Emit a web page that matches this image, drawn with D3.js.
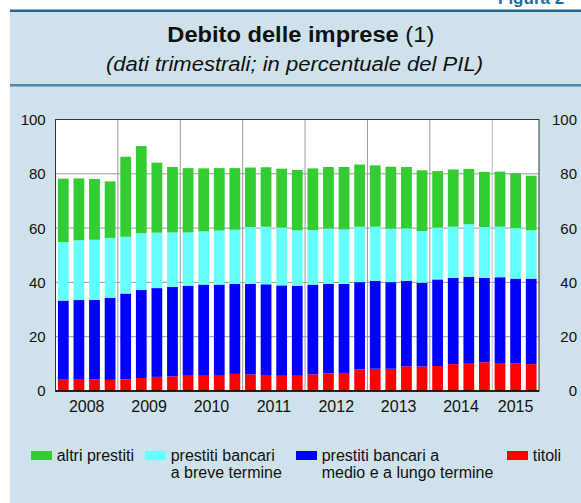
<!DOCTYPE html>
<html>
<head>
<meta charset="utf-8">
<script src="https://cdn.jsdelivr.net/npm/d3@7"></script>
<style>
  body { margin: 0; background: #fff; }
  svg { display: block; font-family: "Liberation Sans", Arial, Helvetica, sans-serif; }
</style>
</head>
<body>
<script>
//Width and height of page
const width = 581;
const height = 503;

// quarters 2008 Q1 -> 2015 Q3
const years = ["2008", "2009", "2010", "2011", "2012", "2013", "2014", "2015"];
const quarters = [];
years.forEach(y => {
  ["T1", "T2", "T3", "T4"].forEach(q => {
    if (!(y === "2015" && q === "T4")) quarters.push(y + q);
  });
});

// values in % of GDP
const titoli = [4.4, 4.4, 4.2, 4.1, 4.3, 4.8, 5.2, 5.4, 5.9, 5.9, 5.9, 6.3, 6.1, 5.9, 5.6, 5.6,
  6.1, 6.5, 6.6, 7.9, 8.2, 8.2, 9.1, 9.0, 9.2, 9.9, 10.3, 10.6, 10.3, 10.1, 9.9];
const medioLungo = [28.9, 29.1, 29.4, 30.2, 31.6, 32.4, 32.7, 33.0, 32.9, 33.3, 33.3, 33.2, 33.4, 33.4, 33.3, 33.2,
  33.1, 33.0, 32.9, 32.2, 32.4, 31.9, 31.5, 30.9, 31.9, 31.8, 31.8, 31.1, 31.6, 31.3, 31.5];
const breve = [21.6, 22.0, 22.1, 22.1, 20.9, 20.9, 20.4, 20.0, 19.6, 19.6, 19.9, 19.9, 20.9, 21.2, 21.3, 20.4,
  20.1, 20.3, 20.0, 20.4, 19.9, 19.7, 19.3, 19.0, 19.1, 18.8, 19.3, 18.7, 18.6, 18.6, 17.8];
const altri = [23.3, 22.8, 22.4, 20.8, 29.5, 32.1, 25.8, 24.1, 23.7, 23.2, 23.0, 22.7, 21.9, 21.9, 21.7, 22.2,
  22.7, 22.7, 23.0, 22.9, 22.6, 22.8, 22.6, 22.4, 20.8, 21.1, 20.4, 20.3, 20.3, 20.2, 20.1];

const yTicks = [0, 20, 40, 60, 80, 100];

// stack order bottom -> top
const series = [
  { key: "titoli", label: ["titoli"], values: titoli, color: "#ff0000" },
  { key: "medioLungo", label: ["prestiti bancari a", "medio e a lungo termine"], values: medioLungo, color: "#0000ff" },
  { key: "breve", label: ["prestiti bancari", "a breve termine"], values: breve, color: "#66ffff" },
  { key: "altri", label: ["altri prestiti"], values: altri, color: "#33cc33" }
];

const table = quarters.map((q, i) => {
  const row = { q: q };
  series.forEach(s => { row[s.key] = s.values[i]; });
  return row;
});

const margin = { top: 119.5, right: 42, bottom: 112, left: 55.5 };
const plotW = width - margin.left - margin.right;
const plotH = height - margin.top - margin.bottom;

const svg = d3.select("body")
  .append("svg")
  .attr("width", width)
  .attr("height", height);

// panel background and rules
svg.append("rect")
  .attr("x", 10).attr("y", 10)
  .attr("width", width - 10).attr("height", height - 10)
  .attr("fill", "#cfe1ea");
svg.append("rect")
  .attr("x", 10).attr("y", 9.5)
  .attr("width", width - 10).attr("height", 2.5)
  .attr("fill", "#1d6589");
svg.append("rect")
  .attr("x", 10).attr("y", 84)
  .attr("width", width - 10).attr("height", 2.5)
  .attr("fill", "#4d89aa");

svg.append("text")
  .attr("x", 498).attr("y", 4)
  .attr("font-size", 17).attr("font-weight", "bold")
  .attr("fill", "#1f6f9f")
  .text("Figura 2");

// titles
const title = svg.append("text")
  .attr("x", 167.3).attr("y", 42)
  .attr("font-size", 22)
  .attr("fill", "#111")
  .attr("textLength", 267)
  .attr("lengthAdjust", "spacingAndGlyphs");
title.append("tspan").attr("font-weight", "bold").text("Debito delle imprese");
title.append("tspan").text(" (1)");

svg.append("text")
  .attr("x", 106).attr("y", 71)
  .attr("font-size", 20)
  .attr("font-style", "italic")
  .attr("fill", "#111")
  .attr("textLength", 377)
  .attr("lengthAdjust", "spacingAndGlyphs")
  .text("(dati trimestrali; in percentuale del PIL)");

const x = d3.scaleBand()
  .domain(quarters)
  .range([0, plotW])
  .paddingInner(0.31)
  .paddingOuter(0.155);

const y = d3.scaleLinear()
  .domain([0, 100])
  .range([plotH, 0]);

const g = svg.append("g")
  .attr("transform", `translate(${margin.left},${margin.top})`);

g.append("rect")
  .attr("width", plotW).attr("height", plotH)
  .attr("fill", "#fff");

// horizontal grid
g.selectAll(".grid")
  .data(yTicks.filter(d => d > 0 && d < 100))
  .enter()
  .append("line")
  .attr("class", "grid")
  .attr("x1", 0).attr("x2", plotW)
  .attr("y1", d => y(d)).attr("y2", d => y(d))
  .attr("stroke", "#999")
  .attr("stroke-width", 1);

// year separators
const gap = x.step() * x.paddingInner() / 2;
g.selectAll(".sep")
  .data(years.slice(1))
  .enter()
  .append("line")
  .attr("class", "sep")
  .attr("x1", d => x(d + "T1") - gap).attr("x2", d => x(d + "T1") - gap)
  .attr("y1", 0).attr("y2", plotH)
  .attr("stroke", d => d === "2015" ? "#bbb" : "#999")
  .attr("stroke-width", 1);

const stack = d3.stack().keys(series.map(s => s.key));
const stacked = stack(table);

g.selectAll(".layer")
  .data(stacked)
  .enter()
  .append("g")
  .attr("class", "layer")
  .attr("fill", (d, i) => series[i].color)
  .selectAll("rect")
  .data(d => d)
  .enter()
  .append("rect")
  .attr("x", d => x(d.data.q))
  .attr("width", x.bandwidth())
  .attr("y", d => y(d[1]))
  .attr("height", d => y(d[0]) - y(d[1]));

// frame
g.append("rect")
  .attr("width", plotW).attr("height", plotH)
  .attr("fill", "none")
  .attr("stroke", "#333")
  .attr("stroke-width", 1);
g.append("line")
  .attr("x1", 0).attr("x2", plotW)
  .attr("y1", plotH).attr("y2", plotH)
  .attr("stroke", "#000")
  .attr("stroke-width", 1.5);

// y labels, both sides
g.selectAll(".ylabL")
  .data(yTicks)
  .enter()
  .append("text")
  .attr("x", -9.8)
  .attr("y", d => y(d))
  .attr("dy", "0.36em")
  .attr("text-anchor", "end")
  .attr("font-size", 15)
  .attr("fill", "#111")
  .text(d => d);
g.selectAll(".ylabR")
  .data(yTicks)
  .enter()
  .append("text")
  .attr("x", 577 - margin.left)
  .attr("y", d => y(d))
  .attr("dy", "0.36em")
  .attr("text-anchor", "end")
  .attr("font-size", 15)
  .attr("fill", "#111")
  .text(d => d);

// year labels, centred on the quarters of each year
g.selectAll(".year")
  .data(years)
  .enter()
  .append("text")
  .attr("x", d => {
    const qs = quarters.filter(q => q.slice(0, 4) === d);
    return (x(qs[0]) + x(last(qs)) + x.bandwidth()) / 2;
  })
  .attr("y", 412.3 - margin.top)
  .attr("text-anchor", "middle")
  .attr("font-size", 16)
  .attr("fill", "#111")
  .text(d => d);

function last(arr) { return arr[arr.length - 1]; }

// legend
const legendItems = [
  { s: series[3], x: 31 },
  { s: series[2], x: 145 },
  { s: series[1], x: 296 },
  { s: series[0], x: 507 }
];
const legend = svg.selectAll(".legend")
  .data(legendItems)
  .enter()
  .append("g")
  .attr("class", "legend")
  .attr("transform", d => `translate(${d.x},451)`);
legend.append("rect")
  .attr("width", 21).attr("height", 9)
  .attr("fill", d => d.s.color);
legend.append("text")
  .attr("x", 25.7)
  .attr("y", 10)
  .attr("font-size", 16)
  .attr("fill", "#111")
  .selectAll("tspan")
  .data(d => d.s.label)
  .enter()
  .append("tspan")
  .attr("x", 25.7)
  .attr("dy", (d, i) => i === 0 ? 0 : 17.3)
  .text(d => d);
</script>
</body>
</html>
